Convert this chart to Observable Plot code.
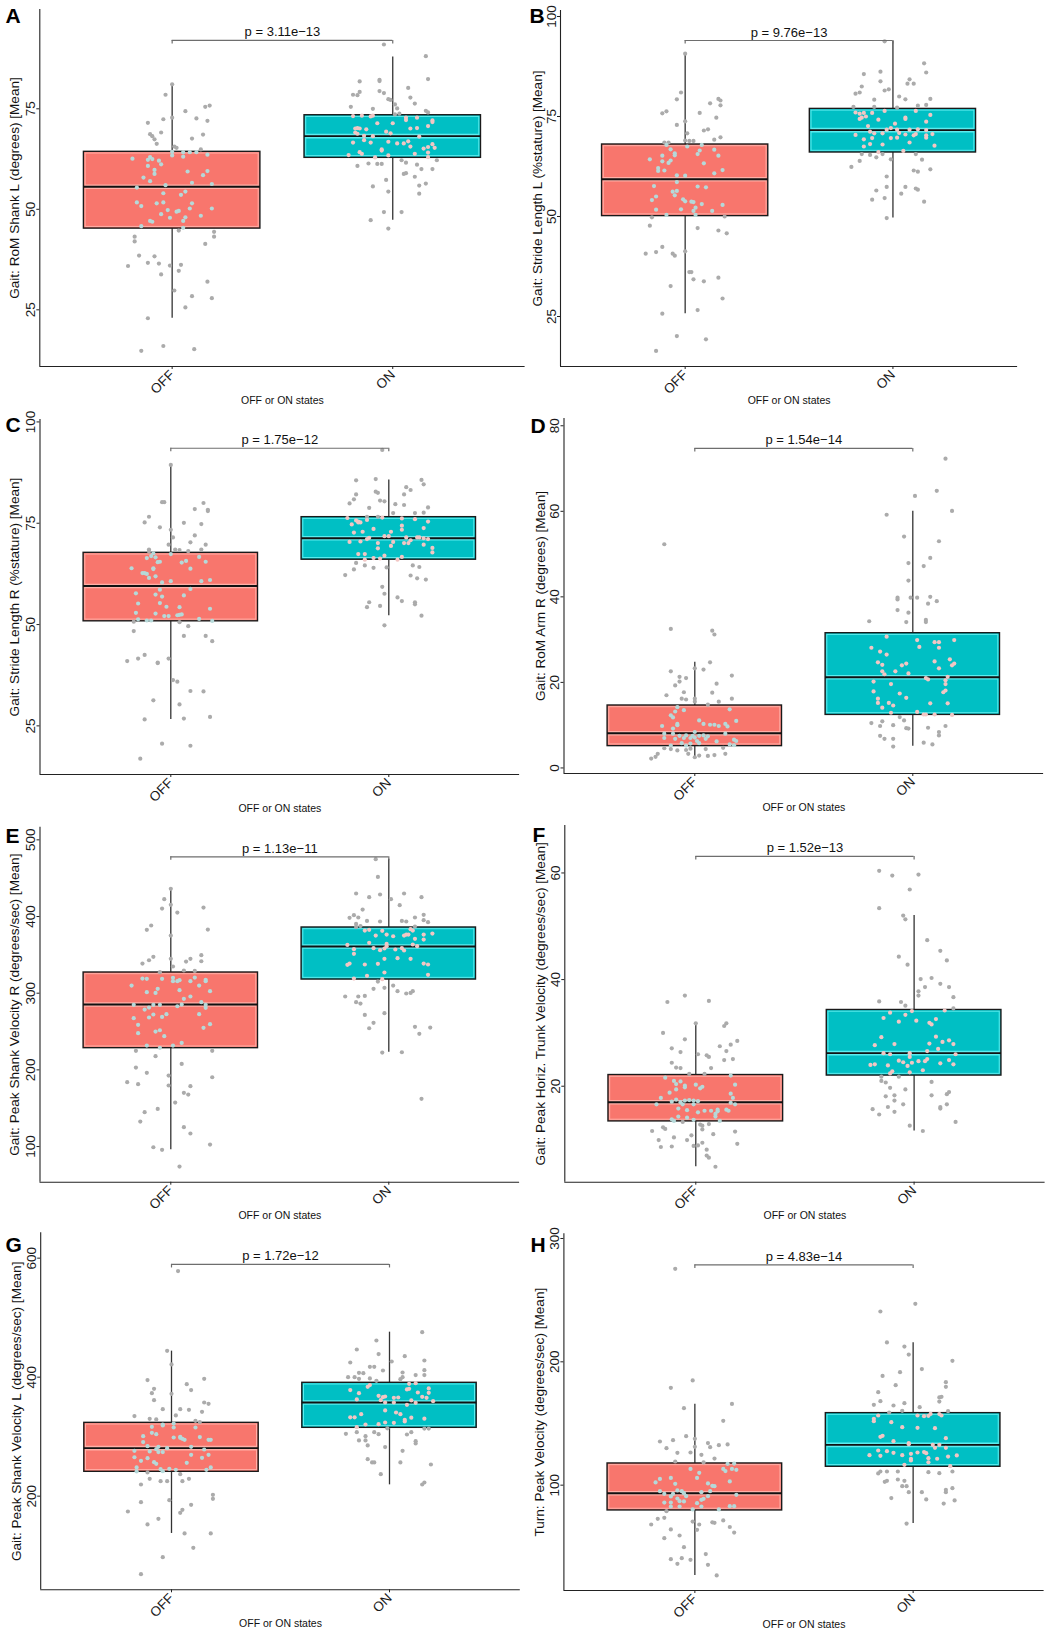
<!DOCTYPE html>
<html>
<head>
<meta charset="utf-8">
<script src="https://cdn.jsdelivr.net/npm/d3@7"></script>
<script src="https://cdn.jsdelivr.net/npm/@observablehq/plot@0.6"></script>
<style>
html, body { margin: 0; padding: 0; background: #fff; }
#fig { position: relative; width: 1055px; height: 1637px; background: #fff; font-family: "Liberation Sans", Arial, sans-serif; }
#fig .panel { position: absolute; }
</style>
</head>
<body>
<div id="fig"></div>
<script>
// ---------- shared labels ----------
const states = ["OFF", "ON"];
const xTitle = "OFF or ON states";

// ---------- panel A : Gait: RoM Shank L ----------
// each point: [value, horizontal jitter (category units)]
const A_OFF = [[81.1,0],[78.5,-0.03],[72.4,-0.04],[72.8,0],[74.4,0.06],[75.5,0.15],[75.8,0.17],[72.6,0.11],[72.0,0.16],[71.5,-0.11],[68.7,-0.10],[68.2,-0.09],[69.1,-0.05],[67.4,-0.08],[66.3,-0.07],[67.6,0.09],[68.6,0.14],[65.6,0.01],[65.3,0.02],[64.9,0.13],[64.3,0],[64.2,0.05],[64.2,0.08],[64.2,0.11],[63.6,0.16],[63.4,0],[63.1,0.05],[62.6,-0.18],[63.0,-0.10],[62.3,-0.11],[62.1,-0.06],[62.5,-0.09],[60.8,-0.11],[61.2,-0.05],[59.4,0.07],[59.5,0.16],[58.5,0.14],[59.8,-0.08],[58.8,-0.08],[57.9,-0.13],[57.0,-0.10],[56.0,-0.03],[56.6,0.09],[56.3,0.18],[55.4,-0.16],[54.0,-0.04],[54.4,0.06],[53.6,0.04],[51.7,-0.16],[50.8,-0.14],[51.5,-0.07],[51.7,-0.04],[51.5,0.09],[50.2,0.08],[50.2,0.18],[49.8,-0.02],[49.4,0.02],[49.6,0.03],[48.8,-0.05],[47.9,-0.01],[48.0,0.06],[48.4,0.13],[47.1,-0.10],[46.9,-0.09],[47.1,0.05],[45.8,-0.14],[45.4,0.05],[44.7,0.03],[44.4,0.19],[43.2,0.19],[43.2,-0.17],[42.0,-0.17],[41.4,0.15],[38.5,-0.15],[38.3,-0.08],[35.9,-0.20],[36.7,-0.11],[36.5,-0.06],[36.0,-0.01],[36.2,0.04],[33.8,-0.05],[34.7,0.03],[32.0,0.16],[29.8,0.01],[28.4,0.09],[27.9,0.18],[25.6,0.06],[22.9,-0.11],[14.8,-0.14],[16.0,-0.04],[15.2,0.10]];
const A_ON = [[91.0,-0.04],[88.1,0.15],[82.4,0.16],[81.8,-0.15],[82.2,-0.06],[81.9,-0.06],[79.2,-0.15],[78.5,-0.18],[78.4,-0.16],[79.4,-0.06],[78.9,-0.04],[80.2,0.07],[77.8,0.08],[77.4,-0.02],[77.2,-0.01],[76.3,0.10],[75.5,-0.19],[76.1,0.01],[75.1,0.02],[75.0,-0.09],[74.5,0.15],[74.1,0.16],[73.8,0.03],[73.6,0.01],[73.2,-0.18],[73.3,-0.14],[73.1,-0.10],[73.3,-0.09],[72.8,0.06],[72.2,0.06],[72.8,0.11],[72.1,0.18],[71.7,0.18],[71.4,-0.07],[71.4,0],[70.1,-0.17],[70.2,-0.16],[70.1,-0.15],[69.9,-0.12],[69.1,-0.17],[68.8,-0.16],[69.3,-0.03],[68.9,-0.01],[70.1,0.08],[70.2,0.11],[70.7,0.16],[68.3,-0.13],[68.2,-0.09],[68.1,0.12],[67.2,-0.13],[66.6,-0.18],[66.6,-0.10],[66.8,-0.02],[66.4,0.02],[66.4,0.05],[66.9,0.07],[65.6,0.08],[64.9,-0.05],[64.6,-0.05],[65.1,0.14],[65.5,0.16],[66.2,0.18],[65.3,0.19],[64.2,-0.15],[63.8,-0.14],[63.5,-0.20],[63.4,-0.02],[63.8,0.10],[64.1,0.16],[63.0,0.16],[62.9,-0.08],[62.2,0.04],[61.6,0.06],[62.2,0.20],[61.4,-0.11],[61.3,-0.07],[61.3,-0.05],[60.8,-0.16],[61.1,0.11],[58.8,0.05],[59.0,0.06],[60.0,0.13],[60.0,0.18],[58.1,0.10],[57.3,-0.03],[55.7,-0.09],[56.4,0.15],[55.9,0.12],[54.4,-0.02],[53.9,0.12],[49.3,-0.04],[49.3,0.04],[47.3,-0.10],[45.2,-0.02]];
const A_BOX = [[45.2,55.6,64.3,22.9,80.7],[62.8,68.2,73.4,47.3,87.9]]; // q1, median, q3, lower whisker, upper whisker

// ---------- panel B : Gait: Stride Length L ----------
const B_OFF = [[90.7,0],[81.0,-0.02],[79.3,-0.04],[79.4,0.16],[79.0,0.17],[77.8,0.17],[78.3,0.12],[74.7,0.15],[75.8,-0.11],[76.3,-0.09],[75.9,0.07],[72.9,-0.04],[73.8,0],[71.8,0.11],[71.5,0.09],[70.8,0.01],[69.8,0.17],[69.2,0.14],[69.0,0],[68.9,0.02],[68.9,0.04],[68.5,-0.10],[68.5,-0.08],[67.9,-0.09],[67.9,0.08],[67.5,0.01],[66.8,-0.07],[66.5,0.07],[66.7,0.14],[65.8,-0.05],[65.3,-0.05],[65.2,-0.11],[65.6,0.06],[65.2,0.16],[64.3,-0.17],[63.8,-0.11],[64.0,-0.07],[63.4,-0.08],[63.3,0.09],[62.1,-0.13],[61.5,-0.10],[61.4,-0.13],[61.6,0.18],[60.8,0.14],[60.3,-0.04],[60.2,0],[58.6,-0.04],[57.6,-0.15],[57.5,0.06],[57.3,0.10],[56.2,-0.06],[56.4,-0.04],[55.3,-0.05],[54.1,-0.16],[55.0,-0.14],[54.3,-0.01],[53.8,0],[53.7,0.03],[53.6,0.04],[53.1,0.08],[52.9,0.18],[52.2,0.05],[51.4,0.04],[51.7,-0.14],[51.8,-0.02],[51.4,0.13],[50.4,-0.09],[50.4,0.05],[49.8,-0.16],[50.0,0.19],[47.7,-0.17],[47.1,0.06],[46.5,0.16],[45.8,0.20],[42.4,-0.11],[41.1,-0.14],[40.7,-0.19],[41.3,0],[40.7,-0.06],[40.2,-0.05],[36.1,0.02],[36.1,0.03],[34.7,0.16],[34.3,0.04],[33.8,0.09],[32.6,-0.07],[29.5,0.18],[25.7,-0.11],[26.6,0.06],[20.1,-0.04],[19.3,0.10],[16.4,-0.14]];
const B_ON = [[93.8,-0.04],[88.3,0.15],[86.0,0.16],[85.6,-0.14],[86.2,-0.06],[84.3,0.08],[83.2,0.10],[83.2,0.07],[83.8,-0.06],[82.5,-0.15],[81.5,-0.04],[81.8,-0.02],[80.7,-0.18],[81.0,-0.16],[80.0,0.03],[79.2,-0.09],[79.3,0.06],[79.4,0.18],[77.9,0.16],[77.7,0.12],[77.4,-0.09],[77.2,0.02],[77.4,-0.19],[76.0,-0.18],[75.7,-0.16],[75.9,-0.14],[75.9,-0.10],[76.4,-0.04],[76.4,0.11],[75.4,0.18],[74.4,-0.16],[74.7,-0.15],[75.0,-0.13],[74.2,-0.07],[74.4,0.06],[74.7,0.06],[73.7,0.16],[72.6,-0.12],[73.2,0.01],[72.1,-0.01],[71.6,0.16],[71.7,-0.03],[71.7,0.02],[71.7,0.08],[71.8,0.12],[71.2,-0.11],[70.8,-0.09],[70.8,-0.05],[70.4,-0.18],[70.5,0.06],[70.6,0.11],[70.6,0.19],[70.9,0.03],[69.3,-0.14],[69.6,-0.10],[68.0,-0.05],[69.6,-0.01],[69.7,0.02],[68.5,0.08],[70.3,0.10],[69.7,0.16],[70.3,0.16],[68.1,-0.11],[67.5,-0.14],[67.7,0.20],[66.4,0.05],[66.1,-0.07],[65.6,-0.05],[65.6,-0.15],[65.4,-0.11],[64.8,-0.08],[64.3,-0.01],[63.9,-0.16],[62.4,-0.20],[65.6,0.11],[64.2,0.14],[61.5,0.10],[61.2,0.12],[61.8,0.18],[60.0,-0.03],[57.4,0.06],[55.7,0.04],[57.4,-0.03],[56.5,-0.08],[57.0,0.11],[56.7,0.12],[54.6,-0.04],[54.2,-0.10],[53.7,0.15],[49.6,-0.03]];
const B_BOX = [[50.1,59.3,68.0,25.7,90.7],[66.0,71.6,76.9,49.6,93.8]];

// ---------- panel C : Gait: Stride Length R ----------
const C_OFF = [[89.4,0],[80.2,-0.04],[80.2,-0.03],[80.0,0.15],[78.5,0.11],[78.3,0.17],[78.0,0.17],[76.6,-0.10],[75.2,-0.12],[75.1,0.06],[74.8,0.14],[74.0,-0.05],[73.4,0],[71.5,0.01],[72.0,0.11],[70.3,0.09],[69.7,0.16],[69.7,-0.01],[68.5,-0.10],[68.0,-0.10],[68.5,0.02],[68.4,0.04],[68.1,0.08],[68.5,0.14],[67.6,-0.08],[67.4,0],[66.4,-0.11],[66.9,-0.09],[66.6,-0.07],[65.4,-0.06],[65.5,-0.05],[65.3,0.05],[65.7,0.07],[66.7,0.13],[65.5,0.16],[63.9,-0.18],[63.8,0.09],[63.7,-0.08],[63.9,-0.08],[62.7,-0.13],[62.7,-0.12],[62.5,-0.11],[61.5,-0.10],[61.9,-0.07],[60.4,-0.04],[60.7,0],[60.7,0.14],[61.0,0.18],[58.6,-0.05],[58.8,0.09],[57.7,-0.16],[57.4,-0.07],[56.9,-0.04],[57.2,0.06],[55.2,-0.15],[55.3,-0.05],[54.4,-0.02],[54.3,0.04],[53.9,0.18],[52.9,-0.16],[52.7,-0.07],[52.1,-0.03],[52.1,-0.01],[52.3,0.03],[52.4,0.04],[52.5,0.05],[51.3,-0.15],[51.0,-0.11],[51.0,-0.09],[51.4,0.13],[50.9,0.19],[50.7,-0.17],[50.6,0.04],[49.6,0.08],[48.4,-0.17],[47.2,0.06],[47.2,0.16],[45.9,0.19],[42.5,-0.12],[41.6,-0.15],[41.0,-0.20],[40.6,-0.06],[40.5,-0.06],[41.6,-0.01],[36.3,0.01],[35.9,0.03],[33.6,0.09],[33.5,0.15],[31.3,-0.08],[30.3,0.04],[27.2,0.18],[26.6,-0.12],[26.8,0.06],[20.6,-0.04],[20.1,0.09],[16.9,-0.14]];
const C_ON = [[93.1,-0.03],[85.6,-0.15],[85.9,-0.06],[85.7,0.15],[84.6,0.16],[83.9,0.08],[83.2,0.10],[82.8,-0.06],[82.5,-0.05],[82.1,-0.15],[82.1,0.07],[80.6,-0.04],[80.4,-0.02],[79.9,-0.18],[80.9,-0.16],[79.7,0.03],[79.5,0.07],[78.9,0.18],[78.8,-0.09],[77.5,0.02],[77.5,0.12],[77.6,0.16],[76.6,-0.10],[76.6,-0.05],[76.3,-0.19],[75.7,-0.15],[75.8,-0.10],[76.4,-0.03],[76.2,0.06],[76.0,0.12],[75.2,-0.14],[75.4,-0.14],[75.2,-0.13],[75.4,0.18],[74.7,-0.17],[73.6,-0.07],[74.4,0.06],[73.8,0.16],[72.7,-0.16],[72.9,-0.12],[72.9,0.01],[73.4,0.06],[71.1,-0.10],[71.4,-0.09],[71.8,-0.02],[71.8,0],[71.5,0.08],[71.5,0.13],[71.5,0.14],[71.1,0.18],[71.3,0.16],[70.8,0.10],[70.4,-0.18],[70.5,-0.13],[70.1,-0.05],[70.4,0.02],[70.1,0.07],[70.1,0.09],[69.7,0.16],[69.4,0.01],[68.9,0.20],[68.8,-0.05],[67.8,0.20],[67.4,-0.14],[67.4,-0.11],[67.0,-0.02],[66.7,0.06],[66.0,-0.11],[66.4,-0.07],[66.3,-0.04],[66.0,0.04],[65.2,-0.15],[63.6,-0.16],[64.6,-0.11],[64.0,-0.07],[64.1,-0.01],[64.6,0.11],[64.2,0.14],[62.2,-0.20],[62.1,0.10],[61.4,0.13],[61.1,0.17],[59.3,-0.03],[57.6,-0.02],[56.7,0.04],[55.8,0.06],[55.5,0.12],[55.0,0.12],[55.5,-0.09],[54.3,-0.10],[54.6,-0.04],[52.2,0.15],[49.8,-0.02]];
const C_BOX = [[50.8,59.5,67.7,26.6,89.4],[66.0,71.3,76.5,52.2,85.7]];

// ---------- panel D : Gait: RoM Arm R ----------
const D_OFF = [[52.3,-0.14],[32.5,-0.11],[32.1,0.08],[31.2,0.09],[24.7,0.07],[21.6,0.17],[23.3,0],[23.0,0.04],[22.6,-0.11],[21.3,-0.07],[21.0,-0.04],[20.2,-0.07],[19.7,0.10],[19.3,-0.09],[17.6,0.08],[17.7,-0.05],[17.0,-0.13],[16.2,-0.06],[16.0,-0.04],[16.2,0],[15.5,0],[16.2,0.17],[15.5,0.11],[14.8,0.06],[14.2,-0.08],[13.5,-0.05],[13.2,-0.09],[13.7,0.16],[12.3,-0.11],[11.8,-0.10],[11.0,0.19],[11.1,0.02],[10.3,-0.08],[10.0,-0.08],[10.3,0.04],[10.1,0.07],[10.1,0.09],[9.8,0.11],[10.3,0.14],[9.7,0.15],[9.8,-0.15],[9.2,-0.10],[8.4,0],[8.0,-0.14],[8.0,-0.10],[8.0,0.14],[7.5,-0.07],[7.6,-0.04],[7.5,-0.01],[7.5,0.02],[7.6,0.04],[7.4,0.06],[7.0,-0.14],[6.8,-0.09],[7.0,-0.05],[7.0,-0.02],[7.1,0],[6.8,0.05],[6.6,0.18],[6.3,0.19],[6.2,0.10],[6.3,0.01],[5.8,-0.06],[5.7,-0.02],[5.8,0.02],[5.5,0.16],[5.3,0.18],[5.2,-0.11],[5.2,-0.04],[4.6,-0.14],[4.4,-0.11],[4.1,-0.08],[4.2,-0.04],[4.5,-0.02],[4.4,0.05],[4.7,0.13],[3.3,-0.17],[2.6,-0.18],[3.3,-0.03],[2.9,0.02],[2.8,0.06],[3.0,0.09],[3.3,0.14],[2.2,-0.20],[2.5,0]];
const D_ON = [[72.3,0.15],[64.8,0.11],[63.6,0.01],[60.1,0.18],[59.2,-0.12],[54.1,-0.04],[53.0,0.12],[49.1,0.08],[47.9,-0.02],[47.2,0.05],[43.8,-0.02],[39.8,-0.07],[39.4,-0.07],[39.8,-0.01],[39.8,0.02],[40.0,0.08],[38.4,0.07],[39.0,0.11],[36.9,-0.07],[36.3,-0.02],[34.6,0.06],[34.1,0.06],[34.3,-0.20],[34.1,-0.03],[30.7,-0.12],[29.9,0.02],[29.4,0.10],[29.4,0.12],[29.9,0.19],[28.3,0.03],[28.1,-0.19],[28.1,0.12],[27.2,-0.15],[26.5,-0.12],[25.4,0.17],[24.9,0.10],[24.7,-0.16],[24.1,-0.14],[24.4,0.19],[24.0,0.18],[24.0,-0.05],[24.4,-0.03],[23.3,0.12],[22.6,-0.14],[22.6,-0.08],[21.9,-0.13],[22.1,-0.02],[21.3,0.16],[21.0,0.06],[20.7,0.07],[20.5,0.15],[19.6,0.15],[20.2,-0.18],[19.6,-0.10],[18.1,0.15],[17.7,0.14],[17.9,-0.18],[17.4,-0.06],[16.4,-0.03],[16.2,-0.16],[15.2,-0.16],[15.2,-0.11],[15.1,0.08],[15.1,0.16],[14.1,-0.14],[14.6,-0.09],[12.9,-0.10],[13.1,0.02],[12.5,0.05],[12.5,0.10],[12.4,0.18],[12.5,0.06],[11.9,-0.06],[11.1,-0.04],[10.5,-0.19],[10.9,-0.14],[10.0,-0.09],[9.2,-0.02],[9.3,-0.03],[9.8,-0.15],[9.8,0.15],[9.4,0.07],[7.5,-0.15],[6.8,-0.13],[6.8,-0.09],[8.4,0.12],[7.6,0.12],[5.9,0.05],[5.5,0.09],[5.0,-0.09]];
const D_BOX = [[5.1,8.1,14.6,2.2,24.7],[12.4,21.2,31.5,5.1,60.0]];

// ---------- panel E : Gait: Peak Shank Velocity R ----------
const E_OFF = [[436.1,0],[422.6,-0.03],[410.4,-0.04],[415.2,0],[405.2,0.03],[411.7,0.15],[388.3,-0.09],[382.6,-0.11],[383.0,0.17],[375.2,0],[338.7,-0.13],[343.0,-0.10],[347.4,-0.08],[344.8,0],[334.8,0.01],[341.3,0.07],[344.8,0.09],[341.7,0.14],[349.6,0.14],[329.6,0.06],[329.1,0.11],[327.4,-0.05],[319.1,-0.13],[318.7,-0.11],[318.7,-0.04],[315.7,0.01],[315.7,0.03],[320.0,0.01],[317.0,0.04],[315.7,0.09],[320.4,0.11],[317.4,0.16],[315.7,0.16],[310.0,-0.18],[305.7,-0.06],[303.9,0.04],[310.0,0.13],[301.3,-0.11],[300.4,-0.07],[302.6,0.18],[295.7,0.09],[292.6,0.06],[288.3,0.14],[284.8,-0.17],[284.8,-0.08],[284.8,-0.05],[285.2,0.05],[283.0,0.03],[284.8,0.16],[280.9,0.16],[278.7,-0.12],[281.3,-0.10],[272.2,-0.08],[269.1,-0.04],[272.6,-0.02],[268.3,-0.10],[267.4,-0.17],[272.6,0.13],[258.7,-0.15],[259.6,0.18],[254.8,0.15],[250.0,-0.07],[251.7,-0.05],[247.8,-0.15],[243.9,-0.03],[235.2,0.05],[231.7,-0.11],[228.7,-0.05],[231.7,0.01],[224.8,-0.16],[224.8,0.19],[217.8,-0.07],[207.8,0.05],[203.0,-0.16],[196.1,-0.11],[192.6,-0.01],[183.9,-0.20],[181.3,-0.15],[190.4,0.19],[179.6,-0.01],[178.7,0.09],[170.0,0.06],[167.8,0.08],[157.4,0.02],[149.1,-0.06],[144.8,-0.12],[132.6,-0.14],[125.2,0.06],[117.0,0.09],[102.6,0.18],[99.1,-0.08],[95.7,-0.04],[73.9,0.04]];
const E_ON = [[474.8,-0.06],[451.7,-0.05],[430.0,-0.15],[428.7,-0.04],[430.0,0.07],[425.2,-0.09],[425.2,0.15],[422.6,0.01],[414.8,0.05],[409.1,-0.12],[398.3,-0.18],[401.7,-0.16],[398.7,-0.14],[394.3,-0.10],[393.5,-0.04],[394.3,0.06],[393.5,0.08],[398.7,0.12],[402.2,0.16],[395.2,0.16],[392.6,0.18],[390.4,-0.15],[387.5,-0.13],[386.5,-0.15],[387.0,0.12],[381.7,-0.11],[382.6,-0.09],[381.3,-0.03],[383.5,0.10],[381.7,0.11],[375.2,-0.06],[376.5,-0.01],[374.3,0.02],[375.2,0.07],[376.5,0.08],[376.5,0.09],[376.5,0.16],[377.8,0.20],[370.9,0.12],[370.0,0.16],[365.7,-0.09],[363.0,-0.19],[364.3,-0.01],[361.3,-0.01],[363.5,0.11],[361.3,0.13],[357.4,-0.16],[351.3,-0.16],[358.7,-0.07],[356.1,-0.04],[358.3,-0.02],[357.0,0.03],[358.7,0.06],[355.7,0.07],[345.7,0.04],[344.8,-0.02],[344.8,0.10],[337.0,-0.19],[338.7,-0.18],[337.4,-0.11],[338.3,-0.05],[338.7,0.16],[337.4,0.18],[327.0,-0.02],[322.6,-0.10],[323.9,0.18],[319.1,-0.16],[318.3,-0.03],[315.2,-0.05],[305.7,-0.07],[307.0,-0.02],[310.0,0.02],[302.6,0.04],[299.6,0.08],[300.4,0.10],[302.6,0.11],[295.7,-0.20],[295.7,-0.14],[296.5,-0.11],[288.3,-0.15],[286.5,-0.13],[271.7,-0.11],[273.9,-0.02],[261.3,-0.07],[254.3,-0.09],[256.1,0.12],[255.2,0.19],[247.0,0.14],[222.6,-0.03],[223.0,0.06],[162.2,0.15]];
const E_BOX = [[228.3,285.2,327.0,95.7,436.1],[317.8,360.9,385.7,223.0,474.8]];

// ---------- panel F : Gait: Peak Horiz. Trunk Velocity ----------
const F_OFF = [[37.0,-0.05],[36.0,0.06],[35.8,-0.13],[31.8,0],[31.8,0.14],[31.3,0.13],[30.0,-0.15],[28.8,-0.05],[28.5,0.19],[27.8,0.16],[27.5,0.11],[27.1,-0.11],[26.6,0.14],[26.4,-0.07],[26.0,0.01],[25.8,0.05],[25.5,0.06],[25.1,0.17],[24.9,0.13],[24.4,-0.11],[23.5,-0.09],[23.4,-0.07],[23.4,0.07],[22.3,-0.03],[22.3,0.04],[22.0,0.16],[21.6,-0.14],[21.0,-0.10],[20.9,-0.07],[20.4,-0.09],[20.1,-0.05],[20.3,0],[20.3,0.18],[19.6,0.02],[19.9,0.03],[19.4,-0.09],[19.8,-0.05],[18.8,-0.12],[18.6,0.16],[17.8,0.17],[17.8,-0.16],[17.5,-0.09],[17.3,-0.05],[17.4,-0.03],[17.3,-0.01],[17.2,0.01],[17.1,-0.11],[17.0,-0.07],[16.6,-0.18],[16.6,-0.06],[16.6,-0.01],[16.9,0.16],[16.6,0.18],[15.8,-0.08],[15.5,-0.04],[15.1,0.01],[15.4,0.04],[15.4,0.07],[15.6,0.10],[15.3,0.10],[15.6,0.14],[15.4,0.15],[14.3,-0.08],[14.1,-0.04],[14.3,0.09],[14.8,0.09],[13.8,-0.11],[13.5,-0.10],[13.3,-0.06],[13.7,-0.01],[13.5,0.11],[12.8,0.02],[12.6,0.03],[12.9,0.06],[12.3,-0.15],[12.0,-0.14],[11.6,-0.20],[11.5,0.18],[11.9,0.03],[11.0,0.08],[10.8,-0.02],[10.4,-0.10],[9.9,-0.17],[9.9,-0.04],[9.4,0.03],[9.2,0.19],[8.6,-0.16],[8.7,-0.11],[8.8,-0.01],[8.9,0.01],[8.1,0.05],[7.0,0.05],[6.6,0.06],[4.9,0.09]];
const F_ON = [[60.4,-0.16],[59.5,-0.10],[59.7,0.02],[56.9,-0.02],[53.4,-0.16],[52.0,-0.05],[51.3,-0.04],[47.4,0.06],[45.4,0.12],[43.6,0.15],[44.3,-0.07],[42.8,-0.03],[40.1,0.03],[40.3,0.08],[39.2,0.12],[38.6,0.16],[38.6,0.05],[37.8,0.02],[37.0,0.02],[36.7,0.18],[34.6,0.18],[35.9,-0.16],[35.8,-0.06],[35.1,-0.04],[33.8,-0.11],[34.1,-0.01],[33.4,-0.04],[34.2,0.14],[32.8,-0.14],[32.1,-0.07],[32.3,0.01],[31.9,0.07],[31.6,0.08],[32.6,0.10],[29.2,-0.15],[29.3,0.10],[27.7,-0.18],[27.9,-0.09],[28.0,0.07],[28.3,0.13],[28.6,0.16],[27.9,0.18],[27.0,0.11],[26.2,-0.14],[26.0,-0.11],[26.2,-0.02],[26.6,0.06],[26.0,0.19],[25.5,-0.02],[24.8,-0.07],[24.5,-0.05],[24.7,0.02],[25.1,0.06],[24.7,0.05],[24.9,0.16],[24.1,0.18],[24.0,-0.20],[24.1,-0.18],[23.9,-0.12],[24.3,0.12],[23.8,-0.03],[24.4,-0.01],[22.8,-0.10],[22.4,-0.11],[22.6,-0.02],[23.0,0.04],[21.8,-0.15],[21.8,-0.07],[21.0,-0.15],[20.7,-0.13],[19.7,-0.11],[20.8,0.08],[19.4,-0.04],[18.1,-0.13],[18.3,-0.09],[18.3,0.08],[18.9,0.16],[18.5,0.15],[17.3,-0.09],[16.6,-0.05],[16.1,-0.12],[16.6,0.15],[16.1,0.12],[15.8,0.12],[15.7,-0.19],[15.2,-0.09],[14.7,-0.16],[13.3,0.19],[12.6,-0.02],[11.6,0.04]];
const F_BOX = [[13.4,17.0,22.1,4.9,31.9],[22.0,26.2,34.3,11.6,52.0]];

// ---------- panel G : Gait: Peak Shank Velocity L ----------
const G_OFF = [[578.2,0.03],[444.3,-0.02],[421.3,0],[395.0,-0.11],[397.2,0.15],[388.2,0.07],[380.4,-0.08],[373.1,-0.09],[378.2,0.09],[372.0,0],[361.3,-0.08],[357.4,0.15],[355.2,0.17],[346.2,-0.04],[346.2,0.04],[345.1,0.08],[341.7,0.14],[335.6,0.02],[334.5,-0.17],[330.0,-0.10],[328.9,-0.07],[326.6,0.11],[324.5,0.13],[320.4,-0.04],[318.8,-0.04],[322.0,0.01],[316.5,-0.09],[306.4,-0.09],[315.4,0.01],[315.4,0.11],[300.8,-0.13],[290.8,-0.13],[304.2,-0.07],[298.6,0.01],[298.0,0.04],[299.7,0.04],[296.4,0.05],[294.7,0.06],[299.2,0.13],[294.7,0.17],[294.7,0.18],[280.7,-0.02],[284.0,-0.11],[282.9,-0.06],[279.0,-0.07],[282.9,0.09],[278.4,0.15],[276.2,-0.17],[275.1,-0.10],[274.0,-0.06],[274.0,-0.04],[269.5,0.09],[269.5,0.17],[265.4,-0.17],[263.9,-0.11],[264.4,0.14],[259.4,-0.14],[257.1,-0.08],[254.3,-0.07],[256.0,0.07],[248.2,-0.16],[248.2,0.18],[245.4,-0.05],[242.0,-0.04],[245.9,-0.01],[244.3,0.02],[241.5,-0.16],[244.3,0.16],[239.8,-0.11],[237.0,0.04],[229.1,-0.10],[225.2,-0.05],[225.2,-0.02],[225.2,0.05],[229.1,0.08],[219.6,-0.14],[202.2,0.19],[195.5,0.19],[189.9,-0.14],[193.3,-0.01],[185.4,0.09],[177.0,0.05],[172.0,0.04],[174.2,-0.20],[161.9,-0.06],[152.4,-0.11],[137.3,0.06],[137.3,0.18],[113.2,0.10],[97.5,-0.04],[68.9,-0.14]];
const G_ON = [[475.6,0.15],[461.6,-0.06],[446.5,-0.15],[438.7,-0.05],[435.3,0.07],[428.0,0.16],[424.6,-0.18],[426.3,0.01],[417.4,-0.09],[417.4,-0.07],[411.2,-0.03],[407.3,-0.14],[406.7,-0.12],[407.8,0.06],[411.8,0.16],[403.4,0.16],[403.4,0.12],[400.0,-0.19],[400.0,-0.16],[397.2,-0.14],[397.8,-0.09],[400.0,0.06],[396.6,0.05],[393.8,-0.06],[388.8,0.09],[380.4,0.09],[379.3,0.08],[389.9,0.12],[386.6,-0.09],[383.8,-0.10],[378.2,-0.18],[381.0,0.18],[373.7,0.18],[374.2,0.13],[373.1,-0.14],[368.6,-0.05],[366.4,-0.03],[367.5,-0.02],[365.3,0.02],[365.8,0.04],[366.9,0.15],[365.3,0.17],[362.5,-0.15],[361.3,-0.04],[360.8,0.10],[359.7,0.20],[357.4,-0.02],[357.4,0.02],[356.9,0.12],[353.5,0.08],[344.0,-0.02],[340.6,0.03],[337.8,0.05],[332.5,-0.18],[332.5,-0.16],[337.8,-0.13],[331.9,0.10],[330.2,0.16],[328.3,0.07],[325.5,0.07],[320.4,-0.11],[321.0,-0.05],[323.8,-0.02],[323.2,0.02],[316.0,-0.15],[314.0,-0.01],[313.5,0.16],[313.5,0.18],[304.8,-0.20],[307.6,-0.15],[307.6,-0.07],[304.2,-0.05],[303.6,0.08],[307.6,0.10],[300.8,-0.11],[293.6,-0.14],[293.6,-0.11],[292.4,0.12],[288.5,0.12],[285.2,-0.10],[282.4,-0.02],[276.2,0.06],[262.2,-0.10],[256.6,-0.08],[256.6,-0.07],[256.6,0.05],[253.2,0.19],[237.0,-0.04],[222.9,0.16],[219.6,0.15]];
const G_BOX = [[240.9,280.7,323.2,137.3,443.7],[314.8,357.4,390.5,219.0,475.6]];

// ---------- panel H : Turn: Peak Velocity ----------
const H_OFF = [[275.4,-0.09],[184.9,-0.01],[178.9,-0.11],[165.9,0.17],[162.4,-0.05],[152.2,0.13],[135.4,-0.16],[136.5,-0.10],[139.7,-0.04],[137.6,0],[134.1,0.06],[130.8,0.07],[132.4,0.11],[133.0,0.15],[130.0,-0.13],[131.1,0],[126.2,-0.08],[126.5,-0.02],[124.6,0.03],[121.6,0.09],[119.2,-0.09],[118.4,0.04],[117.3,0.15],[117.5,0.18],[113.2,-0.02],[113.2,0.13],[111.4,0.14],[113.2,0.17],[112.4,0.19],[110.0,0.02],[105.9,0.01],[105.1,-0.16],[105.9,-0.11],[102.2,-0.18],[101.1,-0.09],[101.4,0.06],[103.0,0.16],[99.5,0.08],[99.2,0.09],[95.1,0.07],[94.3,0.03],[95.1,-0.16],[93.0,-0.14],[93.0,-0.10],[95.7,-0.08],[95.1,-0.06],[93.5,-0.05],[92.2,0.19],[90.9,-0.11],[89.2,-0.08],[91.1,-0.04],[91.1,0.06],[88.9,0.04],[88.1,0.03],[85.9,-0.14],[85.9,-0.11],[87.0,-0.07],[86.8,-0.05],[85.4,0.01],[82.7,-0.11],[82.7,-0.07],[82.7,0.03],[83.0,0.16],[83.0,0.18],[80.3,-0.01],[80.3,0.11],[78.9,-0.13],[72.7,-0.17],[73.5,-0.14],[71.4,0.13],[70.5,-0.01],[68.1,-0.20],[68.1,0.02],[69.9,0.08],[69.5,0.09],[66.1,0.16],[64.1,-0.11],[63.8,0.01],[61.6,0.18],[59.2,-0.07],[57.0,-0.14],[49.7,-0.05],[44.1,0.05],[40.0,-0.11],[40.8,-0.06],[39.5,-0.02],[36.2,-0.08],[35.4,0.06],[26.8,0.10]];
const H_ON = [[247.0,0.01],[240.8,-0.15],[215.7,-0.12],[212.4,-0.04],[205.9,-0.02],[200.8,0.18],[194.1,0.04],[191.6,-0.06],[188.6,-0.14],[183.5,0.15],[179.7,0.15],[181.1,-0.08],[175.4,-0.16],[171.1,0.12],[171.6,0.13],[167.8,0.12],[168.1,-0.15],[165.1,-0.18],[164.6,-0.09],[166.5,-0.04],[163.2,0.03],[158.9,-0.11],[160.3,-0.05],[160.0,0.16],[156.5,-0.16],[153.8,-0.18],[151.9,-0.18],[156.5,0.02],[155.9,0.05],[156.2,0.07],[157.8,0.08],[157.6,0.12],[156.5,0.13],[151.1,-0.10],[147.0,-0.05],[146.5,0.02],[146.2,0.10],[140.0,-0.14],[139.2,-0.15],[138.1,0.15],[135.7,-0.09],[134.1,-0.02],[133.2,-0.02],[132.7,0.09],[132.7,0.12],[130.3,0.10],[130.3,0.15],[128.1,-0.16],[127.6,-0.12],[126.2,-0.09],[126.5,0.02],[126.8,0.05],[125.9,0.06],[124.3,-0.20],[123.8,-0.15],[124.3,-0.05],[125.4,-0.01],[124.1,0.20],[123.2,0.16],[121.4,-0.01],[120.0,-0.01],[121.9,0.07],[121.4,0.11],[118.6,0.07],[116.5,-0.04],[115.4,0.17],[109.5,-0.16],[111.1,-0.15],[111.1,-0.12],[111.1,-0.07],[110.5,0.07],[109.7,0.12],[111.1,0.18],[102.7,-0.13],[103.5,-0.12],[104.6,-0.07],[103.5,-0.04],[99.2,-0.03],[99.2,-0.05],[94.3,-0.02],[94.3,0.04],[96.2,0.15],[94.3,0.15],[97.6,0.18],[89.5,-0.10],[88.4,0.06],[85.1,0.14],[87.6,0.19],[68.9,-0.03]];
const H_BOX = [[79.5,93.5,117.6,26.8,165.7],[114.9,132.7,158.4,68.9,215.4]];

// ---------- per-panel labels, ticks, p-values ----------
const letters = ["A","B","C","D","E","F","G","H"];
const yTitles = [
  "Gait: RoM Shank L (degrees) [Mean]",
  "Gait: Stride Length L (%stature) [Mean]",
  "Gait: Stride Length R (%stature) [Mean]",
  "Gait: RoM Arm R (degrees) [Mean]",
  "Gait: Peak Shank Velocity R (degrees/sec) [Mean]",
  "Gait: Peak Horiz. Trunk Velocity (degrees/sec) [Mean]",
  "Gait: Peak Shank Velocity L (degrees/sec) [Mean]",
  "Turn: Peak Velocity (degrees/sec) [Mean]"
];
const pLabels = ["p = 3.11e\u221213","p = 9.76e\u221213","p = 1.75e\u221212","p = 1.54e\u221214","p = 1.13e\u221211","p = 1.52e\u221213","p = 1.72e\u221212","p = 4.83e\u221214"];
const bracketY = [92.0, 94.0, 93.5, 74.7, 477.8, 63.1, 589.4, 278.6];
const yTicks = [[25,50,75],[25,50,75,100],[25,50,75,100],[0,20,40,60,80],[100,200,300,400,500],[20,40,60],[200,400,600],[100,200,300]];
const yDomains = [[10.9,99.7],[12.5,101.5],[13.0,100.6],[-1.3,81.7],[53.5,516.5],[2.0,68.9],[42.6,642.6],[14.6,303.8]];
const groups = [[A_OFF,A_ON],[B_OFF,B_ON],[C_OFF,C_ON],[D_OFF,D_ON],[E_OFF,E_ON],[F_OFF,F_ON],[G_OFF,G_ON],[H_OFF,H_ON]];
const boxStats = [A_BOX,B_BOX,C_BOX,D_BOX,E_BOX,F_BOX,G_BOX,H_BOX];

// ---------- layout (pixels) ----------
const layout = [
  {left:0,   top:0,    w:527, h:409, ml:39.3, mr:2.4,  mt:9,   mb:43,   tdx:-25.3, lx:5, ly:8},
  {left:527, top:0,    w:528, h:409, ml:33,   mr:37.9, mt:10,  mb:43,   tdx:-22.5, lx:2, ly:8},
  {left:0,   top:409,  w:527, h:409, ml:39.5, mr:7.9,  mt:10,  mb:44,   tdx:-25.5, lx:5, ly:8},
  {left:527, top:409,  w:528, h:409, ml:36.5, mr:11.9, mt:9,   mb:45,   tdx:-23.5, lx:3, ly:9},
  {left:0,   top:818,  w:527, h:409, ml:39.5, mr:7.9,  mt:8.7, mb:45.3, tdx:-25.5, lx:5, ly:10},
  {left:527, top:818,  w:528, h:409, ml:37.3, mr:10.4, mt:7,   mb:45.3, tdx:-24,   lx:5, ly:9},
  {left:0,   top:1227, w:527, h:410, ml:40.2, mr:7.2,  mt:5.3, mb:47.7, tdx:-24.4, lx:5, ly:10},
  {left:527, top:1227, w:528, h:410, ml:36.4, mr:11.4, mt:6.3, mb:47,   tdx:-24.7, lx:3, ly:10}
];
const boxFill = ["#F8766D", "#00BFC4"];
const boxGlow = ["#FFB0A8", "#5CECEE"];
const inBoxDot = ["#B5D9D9", "#F2C6C4"];
const outDot = "#ABABAB";
const font = "'Liberation Sans', Arial, Helvetica, sans-serif";

const fig = document.getElementById("fig");

for (let k = 0; k < 8; k++) {
  const L = layout[k];
  const box = boxStats[k];
  const boxes = box.map((b, gi) => ({gi, x: gi + 1, q1: b[0], med: b[1], q3: b[2], lo: b[3], hi: b[4]}));
  const pts = [];
  groups[k].forEach((g, gi) => g.forEach(([v, j]) => pts.push({
    gi, x: gi + 1 + j, y: v, inBox: v >= box[gi][0] && v <= box[gi][2]
  })));
  const lo = yDomains[k][0];

  const chart = Plot.plot({
    width: L.w, height: L.h,
    marginLeft: L.ml, marginRight: L.mr, marginTop: L.mt, marginBottom: L.mb,
    x: {domain: [0.4, 2.6], axis: null},
    y: {domain: yDomains[k], axis: null},
    style: {fontFamily: font, background: "transparent", overflow: "visible", color: "#1a1a1a"},
    marks: [
      // whiskers
      Plot.ruleX(boxes, {x: "x", y1: "q3", y2: "hi", stroke: "#333", strokeWidth: 1.3}),
      Plot.ruleX(boxes, {x: "x", y1: "lo", y2: "q1", stroke: "#333", strokeWidth: 1.3}),
      // boxes
      Plot.rect(boxes, {x1: d => d.x - 0.4, x2: d => d.x + 0.4, y1: "q1", y2: "q3", fill: d => boxFill[d.gi], stroke: "#1a1a1a", strokeWidth: 1.4}),
      Plot.rect(boxes, {x1: d => d.x - 0.4, x2: d => d.x + 0.4, y1: "q1", y2: "q3", fill: "none", stroke: d => boxGlow[d.gi], strokeWidth: 1, inset: 1.7}),
      Plot.ruleY(boxes, {x1: d => d.x - 0.4, x2: d => d.x + 0.4, y: "med", stroke: d => boxGlow[d.gi], strokeWidth: 4.6, insetLeft: 1.5, insetRight: 1.5}),
      Plot.ruleY(boxes, {x1: d => d.x - 0.4, x2: d => d.x + 0.4, y: "med", stroke: "#111", strokeWidth: 1.9}),
      // jittered points
      Plot.dot(pts, {x: "x", y: "y", r: 2.1, fill: d => d.inBox ? inBoxDot[d.gi] : outDot, stroke: "none"}),
      // significance bracket
      Plot.ruleY([bracketY[k]], {x1: 1, x2: 2, stroke: "#6e6e6e", strokeWidth: 1.2}),
      Plot.ruleX([1, 2], {x: d => d, y1: bracketY[k], y2: bracketY[k], insetBottom: -3.5, stroke: "#6e6e6e", strokeWidth: 1.2}),
      Plot.text([pLabels[k]], {x: 1.5, y: bracketY[k], dy: -4, lineAnchor: "bottom", fontSize: 13, fill: "#111"}),
      // axis lines
      Plot.ruleX([0.4], {stroke: "#222", strokeWidth: 1.1}),
      Plot.ruleY([lo], {stroke: "#222", strokeWidth: 1.1}),
      // axes
      Plot.axisY({ticks: yTicks[k], tickSize: 3, tickPadding: 2, tickRotate: -90, fontSize: 13.5, label: null, stroke: "#222", fill: "#1a1a1a"}),
      Plot.axisX({ticks: [1, 2], tickFormat: d => states[d - 1], tickSize: 3, tickPadding: 3, tickRotate: -45, fontSize: 13.5, label: null, stroke: "#222", fill: "#1a1a1a"}),
      // axis titles
      Plot.text([yTitles[k]], {frameAnchor: "left", rotate: -90, dx: L.tdx, textAnchor: "middle", lineAnchor: "middle", fontSize: 13.6, fill: "#111"}),
      Plot.text([xTitle], {frameAnchor: "bottom", dy: 37, textAnchor: "middle", fontSize: 10.5, fill: "#111"}),
      // panel letter
      Plot.text([letters[k]], {frameAnchor: "top-left", dx: L.lx - L.ml, dy: L.ly - L.mt, textAnchor: "start", lineAnchor: "top", fontSize: 21, fontWeight: "bold", fill: "#000"})
    ]
  });
  const wrap = document.createElement("div");
  wrap.className = "panel";
  wrap.style.left = L.left + "px";
  wrap.style.top = L.top + "px";
  wrap.appendChild(chart);
  fig.appendChild(wrap);
}
</script>
</body>
</html>
